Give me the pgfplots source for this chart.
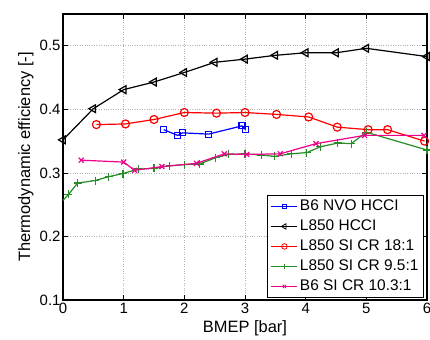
\documentclass[border=0pt]{standalone}
\usepackage{pgfplots}
\pgfplotsset{compat=1.18}
\usepackage{fontspec}
\setmainfont{Liberation Sans}
\definecolor{mgreen}{rgb}{0.15,0.55,0.15}
\begin{document}
\begin{tikzpicture}
\begin{axis}[
  scale only axis,
  width=364bp, height=286bp,
  at={(63bp,40bp)}, anchor=south west,
  xmin=0, xmax=6, ymin=0.1, ymax=0.55,
  xtick={0,1,2,3,4,5,6},
  ytick={0.1,0.2,0.3,0.4,0.5},
  yticklabel style={/pgf/number format/fixed,/pgf/number format/precision=1,/pgf/number format/fixed zerofill, xshift=1bp},
  xticklabel style={yshift=0bp},
  /pgf/number format/assume math mode=true,
  tick label style={font=\fontsize{15}{17}\selectfont},
  label style={font=\fontsize{16.5}{19}\selectfont},
  tick align=inside, xtick pos=both, ytick pos=both,
  major tick length=5bp,
  tick style={black, line width=0.6bp},
  axis line style={black, line width=1.2bp},
  grid=major,
  grid style={gray!60, dotted, line width=0.6bp},
  xlabel={BMEP [bar]},
  ylabel={Thermodynamic efficiency [-]},
  xlabel style={at={(axis description cs:0.5,-0.098)}, anchor=center},
  ylabel style={at={(axis description cs:-0.102,0.5)}, anchor=center},
  clip mode=individual,
  legend cell align=left,
  legend style={at={(axis description cs:1,0)}, anchor=south east, xshift=-3bp, yshift=2bp,
    draw=black, line width=1.1bp, font=\fontsize{15.5}{18}\selectfont,
    inner xsep=3bp, inner ysep=1bp,
    nodes={text height=11bp, text depth=3bp, inner ysep=3bp, inner xsep=2bp}},
  legend image code/.code={\draw[mark repeat=2,mark phase=2,line width=1.1bp,every mark/.append style={scale=0.7, line width=0.8bp}] plot coordinates {(0bp,0bp) (13bp,0bp) (26bp,0bp)};},
  every axis plot/.append style={line width=1.2bp},
]
\addplot[blue, mark=square, mark size=3bp, mark options={solid}] coordinates {
(1.66,0.368) (1.89,0.359) (1.97,0.363) (2.4,0.361) (2.95,0.374) (3.01,0.368)};
\addlegendentry{B6 NVO HCCI}
\addplot[black, mark=triangle, mark size=4.5bp, mark options={solid,rotate=90}] coordinates {
(0,0.352) (0.5,0.401) (1.0,0.431) (1.5,0.443) (2.0,0.458) (2.5,0.474) (3.0,0.479) (3.5,0.485) (4.0,0.489) (4.5,0.489) (5.0,0.496) (6.0,0.483)};
\addlegendentry{L850 HCCI}
\addplot[red, mark=o, mark size=4bp, mark options={solid}] coordinates {
(0.55,0.376) (1.03,0.377) (1.5,0.384) (2.0,0.395) (2.53,0.394) (3.0,0.395) (3.52,0.392) (4.05,0.388) (4.52,0.372) (5.03,0.368) (5.35,0.368) (5.96,0.350)};
\addlegendentry{L850 SI CR 18:1}
\addplot[mgreen, mark=+, mark size=4bp, mark options={solid}] coordinates {
(0.09,0.266) (0.24,0.284) (0.53,0.288) (0.75,0.294) (0.99,0.299) (1.24,0.306) (1.5,0.307) (1.76,0.311) (2.0,0.313) (2.25,0.314) (2.52,0.324) (2.73,0.329) (3.0,0.330) (3.27,0.328) (3.49,0.326) (3.76,0.330) (4.02,0.332) (4.24,0.341) (4.53,0.347) (4.75,0.346) (5.0,0.364) (6.0,0.336)};
\addlegendentry{L850 SI CR 9.5:1}
\addplot[magenta, mark=x, mark size=3.5bp, mark options={solid}] coordinates {
(0.3,0.320) (1.0,0.317) (1.18,0.304) (1.63,0.310) (2.2,0.315) (2.66,0.330) (3.03,0.329) (3.58,0.330) (4.17,0.346) (4.97,0.359) (5.95,0.359)};
\addlegendentry{B6 SI CR 10.3:1}
\addplot[mgreen, forget plot] coordinates {(-0.05,0.252) (0.09,0.266)};
\end{axis}
\pgfresetboundingbox
\useasboundingbox (0,0) rectangle (430bp,340bp);
\end{tikzpicture}
\end{document}
